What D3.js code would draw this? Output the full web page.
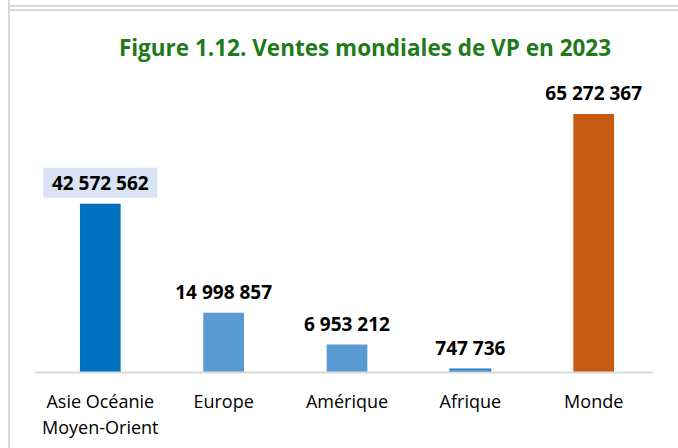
<!DOCTYPE html>
<html>
<head>
<meta charset="utf-8">
<script src="https://cdn.jsdelivr.net/npm/d3@7"></script>
<style>
  body { margin: 0; background: #fff; }
</style>
</head>
<body>
<div id="graphique"></div>
<script>
const categories = [["Asie Océanie", "Moyen-Orient"], ["Europe"], ["Amérique"], ["Afrique"], ["Monde"]];
const ventes = [42572562, 14998857, 6953212, 747736, 65272367];
const etiquettes = ["42 572 562", "14 998 857", "6 953 212", "747 736", "65 272 367"];
const couleurs = ["#0070c0", "#5b9bd5", "#5b9bd5", "#5b9bd5", "#c55a11"];

const largeur = 678, hauteur = 448;
const police = "'Open Sans', 'Noto Sans', sans-serif";

const $svg = d3.select("#graphique")
    .append("svg")
    .attr("width", largeur)
    .attr("height", hauteur);

// cadre gris
$svg.append("line").attr("x1", 9).attr("x2", 9).attr("y1", 0).attr("y2", hauteur)
    .attr("stroke", "#d9d9d9").attr("stroke-width", 2);
$svg.append("line").attr("x1", 9).attr("x2", largeur).attr("y1", 6).attr("y2", 6)
    .attr("stroke", "#d9d9d9").attr("stroke-width", 2);
$svg.append("line").attr("x1", 9).attr("x2", largeur).attr("y1", 10).attr("y2", 10)
    .attr("stroke", "#d9d9d9").attr("stroke-width", 2);

$svg.append("text")
    .attr("x", 365)
    .attr("y", 56)
    .attr("fill", "#217a1a")
    .attr("font-size", 22.5)
    .attr("font-weight", "bold")
    .attr("font-family", police)
    .style("text-anchor", "middle")
    .text("Figure 1.12. Ventes mondiales de VP en 2023");

const x = d3.scaleBand()
    .domain(d3.range(ventes.length))
    .range([38, 656])
    .paddingInner(0.67)
    .paddingOuter(0.34);

const y = d3.scaleLinear()
    .domain([0, d3.max(ventes)])
    .range([372, 114]);

// barres
$svg.selectAll("rect.barre")
    .data(ventes)
    .join("rect")
    .attr("class", "barre")
    .attr("x", (d, i) => x(i))
    .attr("y", d => y(d))
    .attr("width", x.bandwidth())
    .attr("height", d => y(0) - y(d))
    .attr("fill", (d, i) => couleurs[i])
    .attr("stroke", (d, i) => i === 3 ? "#0070c0" : "none")
    .attr("stroke-width", 1);

// axe horizontal
$svg.append("line")
    .attr("x1", 35).attr("x2", 653)
    .attr("y1", y(0) + 0.5).attr("y2", y(0) + 0.5)
    .attr("stroke", "#d9d9d9").attr("stroke-width", 2);

// fond de l'étiquette Asie
$svg.append("rect")
    .attr("x", x(0) + x.bandwidth() / 2 - 57)
    .attr("y", y(ventes[0]) - 36)
    .attr("width", 114)
    .attr("height", 30)
    .attr("fill", "#dae3f3");

// étiquettes de valeurs
$svg.selectAll("text.valeur")
    .data(ventes)
    .join("text")
    .attr("class", "valeur")
    .attr("x", (d, i) => x(i) + x.bandwidth() / 2)
    .attr("y", d => y(d) - 14)
    .attr("fill", "#000")
    .attr("font-size", 19)
    .attr("font-weight", "bold")
    .attr("font-family", police)
    .style("text-anchor", "middle")
    .text((d, i) => etiquettes[i]);

// catégories
const $cats = $svg.selectAll("text.categorie")
    .data(categories)
    .join("text")
    .attr("class", "categorie")
    .attr("font-size", 18)
    .attr("font-family", police)
    .attr("fill", "#000")
    .style("text-anchor", "middle");
$cats.selectAll("tspan")
    .data((d, i) => d.map(t => ({ t, i })))
    .join("tspan")
    .attr("x", d => x(d.i) + x.bandwidth() / 2)
    .attr("y", (d, j) => 408 + j * 26)
    .text(d => d.t);
</script>
</body>
</html>
